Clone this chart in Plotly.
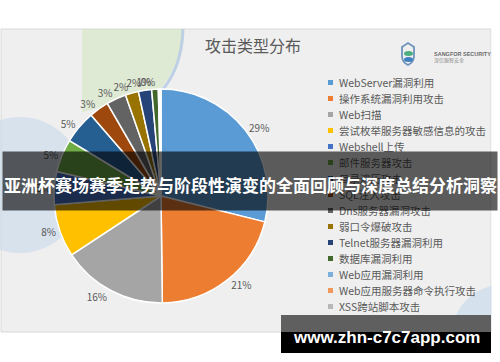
import plotly.graph_objects as go

# ---- data ----
categories = ["WebServer漏洞利用", "操作系统漏洞利用攻击", "Web扫描", "尝试枚举服务器敏感信息的攻击",
              "Webshell上传", "邮件服务器攻击", "目录遍历攻击", "SQL注入攻击", "Dns服务器漏洞攻击",
              "弱口令爆破攻击", "Telnet服务器漏洞利用", "数据库漏洞利用", "Web应用漏洞利用",
              "Web应用服务器命令执行攻击", "XSS跨站脚本攻击"]
values = [29.0, 21.0, 16.0, 8.0, 5.0, 5.0, 5.0, 3.0, 3.0, 2.0, 2.0, 1.0, 0.2, 0.1, 0.1]
colors = ["#5B9BD5", "#ED7D31", "#A5A5A5", "#FFC000", "#4472C4", "#70AD47", "#255E91",
          "#9E480E", "#636363", "#997300", "#264478", "#43682B", "#7CAFDD", "#F1975A", "#B7B7B7"]
show_label = [True] * 13 + [False, False]
title_text = "攻击类型分布"
banner_text = "亚洲杯赛场赛季走势与阶段性演变的全面回顾与深度总结分析洞察"
watermark_text = "www.zhn-c7c7app.com"

W, H = 500, 362
def X(px): return px / W
def Y(py): return 1 - py / H

CJK = "Noto Sans CJK SC"
grey_txt = "#595959"
pie_domain = dict(x=[X(161 - 107), X(161 + 107)], y=[Y(196 + 107), Y(196 - 107)])

fig = go.Figure()
# The percentage labels are spread over several identical, overlaid pies so that
# labels of neighbouring small slices keep their natural place (no stacking).
N_LAYERS = 6
for layer in range(N_LAYERS):
    first = layer == 0
    fig.add_trace(go.Pie(
        labels=categories, values=values, sort=False, direction="clockwise", rotation=0,
        marker=dict(colors=colors if first else ["rgba(0,0,0,0)"] * len(colors),
                    line=dict(color="white" if first else "rgba(0,0,0,0)", width=1.5 if first else 0)),
        texttemplate=["%{percent:.0%}" if (s and i % N_LAYERS == layer) else ""
                      for i, s in enumerate(show_label)],
        textposition="outside", textfont=dict(family=CJK, size=10, color=grey_txt),
        showlegend=False, automargin=False,
        hoverinfo="label+percent" if first else "skip",
        domain=pie_domain,
    ))

shapes = []
# panel
shapes.append(dict(type="rect", xref="paper", yref="paper", x0=X(1), x1=X(491), y0=Y(332), y1=Y(29),
                   fillcolor="#efefef", line=dict(color="#d9d9d9", width=1), layer="below"))
# decorative background shapes
shapes.append(dict(type="path", xref="paper", yref="paper", layer="below",
                   path=f"M {X(82)},{Y(29)} L {X(183)},{Y(29)} Q {X(180)},{Y(70)} {X(155)},{Y(95)} L {X(82)},{Y(112)} Z",
                   fillcolor="rgba(205,228,180,0.45)", line=dict(width=0)))
shapes.append(dict(type="path", xref="paper", yref="paper", layer="below",
                   path=f"M {X(183)},{Y(29)} Q {X(182)},{Y(70)} {X(158)},{Y(95)}",
                   line=dict(color="rgba(170,195,225,0.7)", width=3)))
shapes.append(dict(type="circle", xref="paper", yref="paper", layer="below",
                   x0=X(-45), x1=X(85), y0=Y(253), y1=Y(117),
                   fillcolor="rgba(195,215,235,0.55)", line=dict(width=0)))
shapes.append(dict(type="circle", xref="paper", yref="paper", layer="below",
                   x0=X(452), x1=X(552), y0=Y(385), y1=Y(285),
                   fillcolor="rgba(195,215,235,0.6)", line=dict(width=0)))
shapes.append(dict(type="rect", xref="paper", yref="paper", layer="below",
                   x0=X(0), x1=X(500), y0=Y(362), y1=Y(333), fillcolor="white", line=dict(width=0)))
shapes.append(dict(type="rect", xref="paper", yref="paper", layer="below",
                   x0=X(491.5), x1=X(500), y0=Y(333), y1=Y(28), fillcolor="white", line=dict(width=0)))
# logo shield
shapes.append(dict(type="path", xref="paper", yref="paper",
                   path=f"M {X(402)},{Y(47)} L {X(408)},{Y(43)} L {X(414)},{Y(47)} L {X(414)},{Y(56)} Q {X(414)},{Y(62)} {X(408)},{Y(65)} Q {X(402)},{Y(62)} {X(402)},{Y(56)} Z",
                   line=dict(color="#6f93bb", width=1.8), fillcolor="rgba(0,0,0,0)"))
shapes.append(dict(type="circle", xref="paper", yref="paper", x0=X(404), x1=X(413), y0=Y(56), y1=Y(51),
                   fillcolor="#4caf7d", line=dict(width=0)))
shapes.append(dict(type="circle", xref="paper", yref="paper", x0=X(404), x1=X(413), y0=Y(62), y1=Y(57),
                   fillcolor="#3f7fc0", line=dict(width=0)))
# legend markers
for i, c in enumerate(colors):
    yc = 82.5 + 16.0 * i
    shapes.append(dict(type="rect", xref="paper", yref="paper", x0=X(328), x1=X(333),
                       y0=Y(yc + 2.5), y1=Y(yc - 2.5), fillcolor=c, line=dict(width=0)))
# watermark boxes
shapes.append(dict(type="rect", xref="paper", yref="paper", x0=X(281), x1=X(491), y0=Y(332), y1=Y(315),
                   fillcolor="#5f5f5f", line=dict(width=0)))
shapes.append(dict(type="rect", xref="paper", yref="paper", x0=X(281), x1=X(491), y0=Y(353), y1=Y(332),
                   fillcolor="#000000", line=dict(width=0)))

annotations = []
annotations.append(dict(text=title_text, x=X(252.5), y=Y(45), xref="paper", yref="paper",
                        showarrow=False, xanchor="center", yanchor="middle",
                        font=dict(family=CJK, size=16, color=grey_txt)))
annotations.append(dict(text="<b>SANGFOR SECURITY</b>", x=X(432), y=Y(54), xref="paper", yref="paper",
                        showarrow=False, xanchor="left", yanchor="middle",
                        font=dict(family="Liberation Sans", size=5.5, color="#6a6a6a")))
annotations.append(dict(text="深信服智安全", x=X(432), y=Y(60.5), xref="paper", yref="paper",
                        showarrow=False, xanchor="left", yanchor="middle",
                        font=dict(family=CJK, size=5, color="#8a8a8a")))
for i, lab in enumerate(categories):
    yc = 82.5 + 16.0 * i
    annotations.append(dict(text=lab, x=X(337), y=Y(yc), xref="paper", yref="paper",
                            showarrow=False, xanchor="left", yanchor="middle",
                            font=dict(family=CJK, size=10.5, color=grey_txt)))
# banner overlay (drawn after legend so it darkens it)
annotations.append(dict(text=" ", x=X(250), y=Y(181), xref="paper", yref="paper",
                        showarrow=False, xanchor="center", yanchor="middle",
                        width=494, height=58, borderpad=0, bgcolor="rgba(0,0,0,0.62)",
                        font=dict(size=10)))
annotations.append(dict(text=f"<b>{banner_text}</b>", x=X(250), y=Y(184.5), xref="paper", yref="paper",
                        showarrow=False, xanchor="center", yanchor="middle",
                        font=dict(family=CJK, size=17, color="white")))
annotations.append(dict(text=f"<b>{watermark_text}</b>", x=X(386), y=Y(337), xref="paper", yref="paper",
                        showarrow=False, xanchor="center", yanchor="middle",
                        font=dict(family="Liberation Sans", size=17, color="white")))

fig.update_layout(width=W, height=H, margin=dict(l=0, r=0, t=0, b=0),
                  paper_bgcolor="white", plot_bgcolor="white",
                  shapes=shapes, annotations=annotations, showlegend=False)
fig.write_html("out.html", config={"displayModeBar": False},
               post_script="document.body.style.margin='0';document.body.style.padding='0';")
